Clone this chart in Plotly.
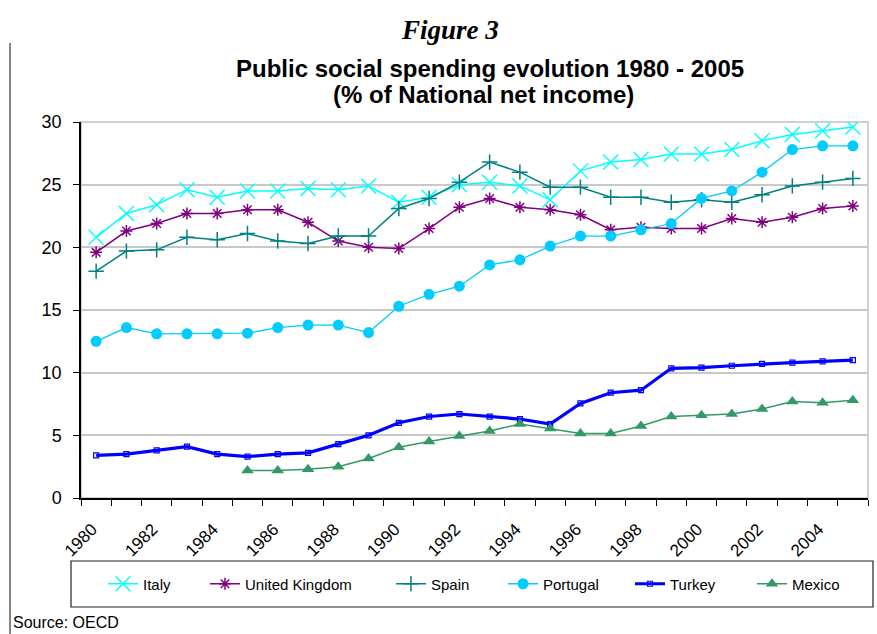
import plotly.graph_objects as go

# Years on the horizontal axis
years = list(range(1980, 2006))

# Public social spending, % of national net income
italy = [20.8, 22.7, 23.4, 24.6, 24.0, 24.5, 24.5, 24.7, 24.6, 24.9, 23.6, 24.0, 25.0,
         25.2, 24.9, 23.8, 26.1, 26.8, 27.0, 27.45, 27.45, 27.8, 28.5, 29.0, 29.3, 29.6]
united_kingdom = [19.6, 21.3, 21.9, 22.7, 22.7, 23.0, 23.0, 22.0, 20.5, 20.0, 19.9, 21.5, 23.2,
                  23.9, 23.2, 23.0, 22.6, 21.4, 21.6, 21.5, 21.5, 22.3, 22.0, 22.4, 23.1, 23.3]
spain = [18.1, 19.7, 19.8, 20.8, 20.6, 21.1, 20.5, 20.3, 20.9, 20.9, 23.1, 23.9, 25.2,
         26.8, 26.0, 24.8, 24.8, 24.0, 24.0, 23.6, 23.8, 23.6, 24.2, 24.9, 25.2, 25.5]
portugal = [12.5, 13.6, 13.1, 13.1, 13.1, 13.15, 13.6, 13.8, 13.8, 13.2, 15.3, 16.25, 16.9,
            18.6, 19.0, 20.1, 20.9, 20.9, 21.4, 21.9, 23.9, 24.5, 26.0, 27.8, 28.1, 28.1]
turkey = [3.4, 3.5, 3.8, 4.1, 3.5, 3.3, 3.5, 3.6, 4.3, 5.0, 6.0, 6.5, 6.7,
          6.5, 6.3, 5.9, 7.55, 8.4, 8.6, 10.35, 10.4, 10.55, 10.7, 10.8, 10.9, 11.0]
mexico = [None, None, None, None, None, 2.2, 2.2, 2.3, 2.5, 3.15, 4.05, 4.5, 4.95,
          5.35, 5.9, 5.55, 5.15, 5.15, 5.75, 6.5, 6.6, 6.7, 7.1, 7.7, 7.6, 7.8]

tick_years = list(range(1980, 2005, 2))
tick_labels = [str(y) for y in tick_years]

FONT = "Liberation Sans, Arial, sans-serif"

# Plot area in pixels: left 81, right 868, top 122, bottom 498
W, H = 877, 634
L, R, T, B = 81, 868, 122, 498


def px_x(x):
    return (x - L) / (R - L)


def px_y(y):
    return (B - y) / (B - T)


series = [
    dict(name="Italy", y=italy, color="#00FFFF", width=1.5,
         marker=dict(symbol="x-thin", size=15, line=dict(width=1.4, color="#00FFFF")), lw=57),
    dict(name="United Kingdom", y=united_kingdom, color="#800080", width=1.5,
         marker=dict(symbol="asterisk", size=10, line=dict(width=1.5, color="#800080")), lw=141),
    dict(name="Spain", y=spain, color="#008080", width=1.5,
         marker=dict(symbol="cross-thin", size=11, line=dict(width=1.5, color="#008080")), lw=67),
    dict(name="Portugal", y=portugal, color="#00CCFF", width=1.3,
         marker=dict(symbol="circle", size=11, color="#00CCFF"), lw=82),
    dict(name="Turkey", y=turkey, color="#0000FF", width=3.2,
         marker=dict(symbol="square-open", size=5, color="#0000FF", line=dict(width=1.2)), lw=77),
    dict(name="Mexico", y=mexico, color="#339966", width=1.5,
         marker=dict(symbol="triangle-up", size=11, color="#339966"), lw=60),
]

fig = go.Figure()
for s in series:
    fig.add_trace(go.Scatter(
        x=years, y=s["y"], name=s["name"], mode="lines+markers",
        line=dict(color=s["color"], width=s["width"]),
        marker=s["marker"], legendwidth=s["lw"],
        connectgaps=False,
    ))

shapes = [
    # light grey frame around the plotting area
    dict(type="rect", xref="paper", yref="paper", x0=0, x1=1, y0=0, y1=1,
         line=dict(color="#C0C0C0", width=1.5), layer="below"),
    # legend box
    dict(type="rect", xref="paper", yref="paper",
         x0=px_x(71), x1=px_x(873), y0=px_y(561), y1=px_y(607),
         line=dict(color="#222222", width=1.2), fillcolor="rgba(0,0,0,0)"),
    # chart frame edge on the left
    dict(type="line", xref="paper", yref="paper",
         x0=px_x(10), x1=px_x(10), y0=px_y(43), y1=px_y(640),
         line=dict(color="#333333", width=1.2)),
]

annotations = [
    dict(text="<b><i>Figure 3</i></b>", x=px_x(450), y=px_y(30), xref="paper", yref="paper",
         showarrow=False, xanchor="center", yanchor="middle",
         font=dict(family="Liberation Serif, Times New Roman, serif", size=27, color="black")),
    dict(text="<b>Public social spending evolution 1980 - 2005</b>", x=px_x(490), y=px_y(68),
         xref="paper", yref="paper", showarrow=False, xanchor="center", yanchor="middle",
         font=dict(family=FONT, size=24, color="black")),
    dict(text="<b>(% of National net income)</b>", x=px_x(483), y=px_y(95),
         xref="paper", yref="paper", showarrow=False, xanchor="center", yanchor="middle",
         font=dict(family=FONT, size=24, color="black")),
    dict(text="Source: OECD", x=px_x(11), y=px_y(622), xref="paper", yref="paper",
         showarrow=False, xanchor="left", yanchor="middle",
         font=dict(family=FONT, size=16, color="black")),
]

fig.update_layout(
    width=W, height=H,
    margin=dict(l=L, r=W - R, t=T, b=H - B),
    paper_bgcolor="white", plot_bgcolor="white",
    font=dict(family=FONT, color="black"),
    showlegend=True,
    legend=dict(orientation="h", x=px_x(103), y=px_y(584), xanchor="left", yanchor="middle",
                font=dict(family=FONT, size=15, color="black"), bgcolor="rgba(0,0,0,0)",
                borderwidth=0),
    shapes=shapes,
    annotations=annotations,
    xaxis=dict(
        range=[1979.5, 2005.5], tickmode="array", tickvals=tick_years, ticktext=tick_labels,
        tickangle=-45, ticks="", showgrid=False, zeroline=False,
        showline=True, linecolor="black", linewidth=1.5,
        tickfont=dict(family=FONT, size=17, color="black"),
        ticklabelstandoff=13, ticklabelshift=-4,
        minor=dict(tickmode="linear", tick0=1979.5, dtick=1, ticks="outside",
                   ticklen=6, tickcolor="black", tickwidth=1.2, showgrid=False),
    ),
    yaxis=dict(
        range=[0, 30], tickmode="linear", tick0=0, dtick=5,
        ticks="outside", ticklen=6, tickcolor="black", tickwidth=1.2,
        showgrid=True, gridcolor="#C8C8C8", gridwidth=1.5, zeroline=False,
        showline=True, linecolor="black", linewidth=1.5,
        tickfont=dict(family=FONT, size=18, color="black"), ticklabelstandoff=8,
    ),
)

fig.write_html("out.html")
